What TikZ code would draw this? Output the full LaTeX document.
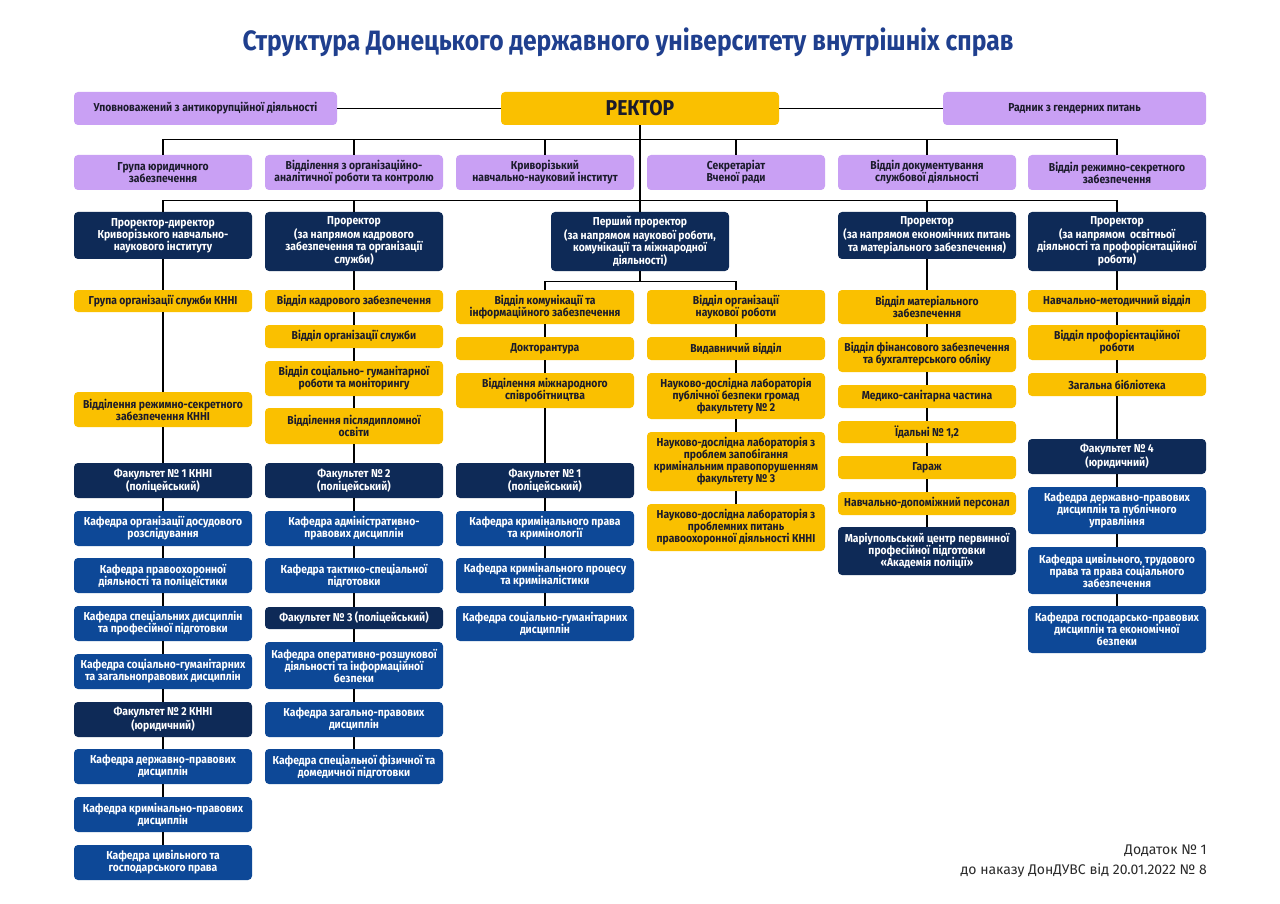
\documentclass[tikz,border=0pt]{standalone}
\usepackage{fontspec}
\setmainfont{Fira Sans}[FakeStretch=0.9]
\newfontfamily\titlefont{Fira Sans}[FakeStretch=0.88]
\newfontfamily\footfont{Fira Sans}
\definecolor{purp}{HTML}{C9A0F4}
\definecolor{yel}{HTML}{FAC000}
\definecolor{navy}{HTML}{0E2A57}
\definecolor{kblue}{HTML}{0D4897}
\definecolor{titleblue}{HTML}{1F3F8E}
\definecolor{dtext}{HTML}{1B1B2B}
\definecolor{foottext}{HTML}{2A2A2A}
\tikzset{
  bx/.style={rounded corners=4pt, align=center, inner xsep=2pt, inner ysep=0pt,
    minimum width=178, font=\bfseries\fontsize{11.5}{12}\selectfont},
  pu/.style={bx, fill=purp, text=dtext},
  ye/.style={bx, fill=yel, text=dtext},
  nv/.style={bx, fill=navy, text=white},
  kb/.style={bx, fill=kblue, text=white},
  conn/.style={draw=black, line width=1.2pt},
}
\newcommand\nd[6]{\node[#1, minimum height=#5] (#2) at (#3,#4) {#6};}
\begin{document}
\begin{tikzpicture}[x=1pt,y=-1pt]
\useasboundingbox (0,0) rectangle (1280,904);
\fill[white] (0,0) rectangle (1280,904);

\node[font=\titlefont\bfseries\fontsize{28}{32}\selectfont, text=titleblue] (title) at (628,42)
  {Структура Донецького державного університету внутрішніх справ};

% row 1
\node[pu, minimum width=263, minimum height=33] (anti) at (205.5,108.5) {Уповноважений з антикорупційної діяльності};
\node[ye, minimum width=278, minimum height=33, font=\bfseries\fontsize{21.5}{23}\selectfont] (rector) at (640,108.5) {РЕКТОР};
\node[pu, minimum width=263, minimum height=33] (gender) at (1074.5,108.5) {Радник з гендерних питань};

% row 2
\nd{pu}{pu1}{163}{172.5}{35}{Група юридичного\\забезпечення}
\nd{pu}{pu2}{354}{172.5}{35}{Відділення з організаційно-\\аналітичної роботи та контролю}
\nd{pu}{pu3}{545}{172.5}{35}{Криворізький\\навчально-науковий інститут}
\nd{pu}{pu4}{736}{172.5}{35}{Секретаріат\\Вченої ради}
\nd{pu}{pu5}{927}{172.5}{35}{Відділ документування\\службової діяльності}
\nd{pu}{pu6}{1117}{172.5}{35}{Відділ режимно-секретного\\забезпечення}

% row 3 prorectors
\nd{nv}{p1}{163}{235.5}{47}{Проректор-директор\\Криворізького навчально-\\наукового інституту}
\nd{nv}{p2}{354}{241.5}{59}{Проректор\\(за напрямом кадрового\\забезпечення та організації\\служби)}
\nd{nv}{p0}{640}{241.5}{59}{Перший проректор\\(за напрямом наукової роботи,\\комунікації та міжнародної\\діяльності)}
\nd{nv}{p5}{927}{235.5}{47}{Проректор\\(за напрямом економічних питань\\та матеріального забезпечення)}
\nd{nv}{p6}{1117}{241.5}{59}{Проректор\\(за напрямом\ \ освітньої\\діяльності та профорієнтаційної\\роботи)}

% column 1
\nd{ye}{g1}{163}{301}{22}{Група організації служби КННІ}
\nd{ye}{r1}{163}{409.5}{35}{Відділення режимно-секретного\\забезпечення КННІ}
\nd{nv}{f1}{163}{480.5}{35}{Факультет № 1 КННІ\\(поліцейський)}
\nd{kb}{k11}{163}{528.5}{35}{Кафедра організації досудового\\розслідування}
\nd{kb}{k12}{163}{575.5}{35}{Кафедра правоохоронної\\діяльності та поліцеїстики}
\nd{kb}{k13}{163}{623.5}{35}{Кафедра спеціальних дисциплін\\та професійної підготовки}
\nd{kb}{k14}{163}{671.5}{35}{Кафедра соціально-гуманітарних\\та загальноправових дисциплін}
\nd{nv}{f12}{163}{719.5}{35}{Факультет № 2 КННІ\\(юридичний)}
\nd{kb}{k15}{163}{766.5}{35}{Кафедра державно-правових\\дисциплін}
\nd{kb}{k16}{163}{814.5}{35}{Кафедра кримінально-правових\\дисциплін}
\nd{kb}{k17}{163}{862.5}{35}{Кафедра цивільного та\\господарського права}

% column 2
\nd{ye}{a2}{354}{301}{22}{Відділ кадрового забезпечення}
\nd{ye}{b2}{354}{336.5}{23}{Відділ організації служби}
\nd{ye}{c2}{354}{378.5}{35}{Відділ соціально- гуманітарної\\роботи та моніторингу}
\nd{ye}{d2}{354}{426}{36}{Відділення післядипломної\\освіти}
\nd{nv}{f2}{354}{480.5}{35}{Факультет № 2\\(поліцейський)}
\nd{kb}{k21}{354}{528.5}{35}{Кафедра адміністративно-\\правових дисциплін}
\nd{kb}{k22}{354}{575.5}{35}{Кафедра тактико-спеціальної\\підготовки}
\nd{nv}{f3}{354}{618}{22}{Факультет № 3 (поліцейський)}
\nd{kb}{k23}{354}{665.5}{47}{Кафедра оперативно-розшукової\\діяльності та інформаційної\\безпеки}
\nd{kb}{k24}{354}{719.5}{35}{Кафедра загально-правових\\дисциплін}
\nd{kb}{k25}{354}{766.5}{35}{Кафедра спеціальної фізичної та\\домедичної підготовки}

% column 3
\nd{ye}{y31}{545}{307}{34}{Відділ комунікації та\\інформаційного забезпечення}
\nd{ye}{y32}{545}{348.5}{23}{Докторантура}
\nd{ye}{y33}{545}{390.5}{35}{Відділення міжнародного\\співробітництва}
\nd{nv}{f31}{545}{480.5}{35}{Факультет № 1\\(поліцейський)}
\nd{kb}{k31}{545}{528.5}{35}{Кафедра кримінального права\\та кримінології}
\nd{kb}{k32}{545}{575.5}{35}{Кафедра кримінального процесу\\та криміналістики}
\nd{kb}{k33}{545}{623.5}{35}{Кафедра соціально-гуманітарних\\дисциплін}

% column 4
\nd{ye}{y41}{736}{307}{34}{Відділ організації\\наукової роботи}
\nd{ye}{y42}{736}{348.5}{23}{Видавничий відділ}
\nd{ye}{y43}{736}{396}{46}{Науково-дослідна лабораторія\\публічної безпеки громад\\факультету № 2}
\nd{ye}{y44}{736}{461.5}{59}{Науково-дослідна лабораторія з\\проблем запобігання\\кримінальним правопорушенням\\факультету № 3}
\nd{ye}{y45}{736}{527.5}{47}{Науково-дослідна лабораторія з\\проблемних питань\\правоохоронної діяльності КННІ}

% column 5
\nd{ye}{y51}{927}{307}{34}{Відділ матеріального\\забезпечення}
\nd{ye}{y52}{927}{354.5}{35}{Відділ фінансового забезпечення\\та бухгалтерського обліку}
\nd{ye}{y53}{927}{396.5}{23}{Медико-санітарна частина}
\nd{ye}{y54}{927}{432}{22}{Їдальні № 1,2}
\nd{ye}{y55}{927}{467.5}{23}{Гараж}
\nd{ye}{y56}{927}{503.5}{23}{Навчально-допоміжний персонал}
\nd{nv}{m5}{927}{551}{48}{Маріупольський центр первинної\\професійної підготовки\\«Академія поліції»}

% column 6
\nd{ye}{y61}{1117}{301}{22}{Навчально-методичний відділ}
\nd{ye}{y62}{1117}{342.5}{35}{Відділ профорієнтаційної\\роботи}
\nd{ye}{y63}{1117}{384.5}{23}{Загальна бібліотека}
\nd{nv}{f6}{1117}{456.5}{35}{Факультет № 4\\(юридичний)}
\nd{kb}{k61}{1117}{510.5}{47}{Кафедра державно-правових\\дисциплін та публічного\\управління}
\nd{kb}{k62}{1117}{570.5}{47}{Кафедра цивільного, трудового\\права та права соціального\\забезпечення}
\nd{kb}{k63}{1117}{629.5}{47}{Кафедра господарсько-правових\\дисциплін та економічної\\безпеки}

% footer
\node[anchor=north east, align=right, inner sep=0pt, text=foottext,
  font=\footfont\fontsize{14}{20}\selectfont] (foot) at (1207,845)
  {Додаток № 1\\до наказу ДонДУВС від 20.01.2022 № 8};

% connectors
\draw[conn] (anti.east) -- (rector.west);
\draw[conn] (rector.east) -- (gender.west);
\draw[conn] (rector.south) -- (p0.north);
\draw[conn] (pu1.north) -- ++(0,-15) -| (pu6.north);
\foreach \n in {pu2,pu3,pu4,pu5} \draw[conn] (\n.north) -- ++(0,-15);
\draw[conn] (p1.north) -- ++(0,-11) -| (p6.north);
\foreach \n in {p2,p5} \draw[conn] (\n.north) -- ++(0,-11);
\draw[conn] (p0.south) -- ++(0,10) -| (y31.north);
\draw[conn] (p0.south) -- ++(0,10) -| (y41.north);
\foreach \a/\b in {p1/g1,g1/r1,r1/f1,f1/k11,k11/k12,k12/k13,k13/k14,k14/f12,f12/k15,k15/k16,k16/k17,
  p2/a2,a2/b2,b2/c2,c2/d2,d2/f2,f2/k21,k21/k22,k22/f3,f3/k23,k23/k24,k24/k25,
  y31/y32,y32/y33,y33/f31,f31/k31,k31/k32,k32/k33,
  y41/y42,y42/y43,y43/y44,y44/y45,
  p5/y51,y51/y52,y52/y53,y53/y54,y54/y55,y55/y56,y56/m5,
  p6/y61,y61/y62,y62/y63,y63/f6,f6/k61,k61/k62,k62/k63}
  \draw[conn] (\a.south) -- (\b.north);
\end{tikzpicture}
\end{document}
